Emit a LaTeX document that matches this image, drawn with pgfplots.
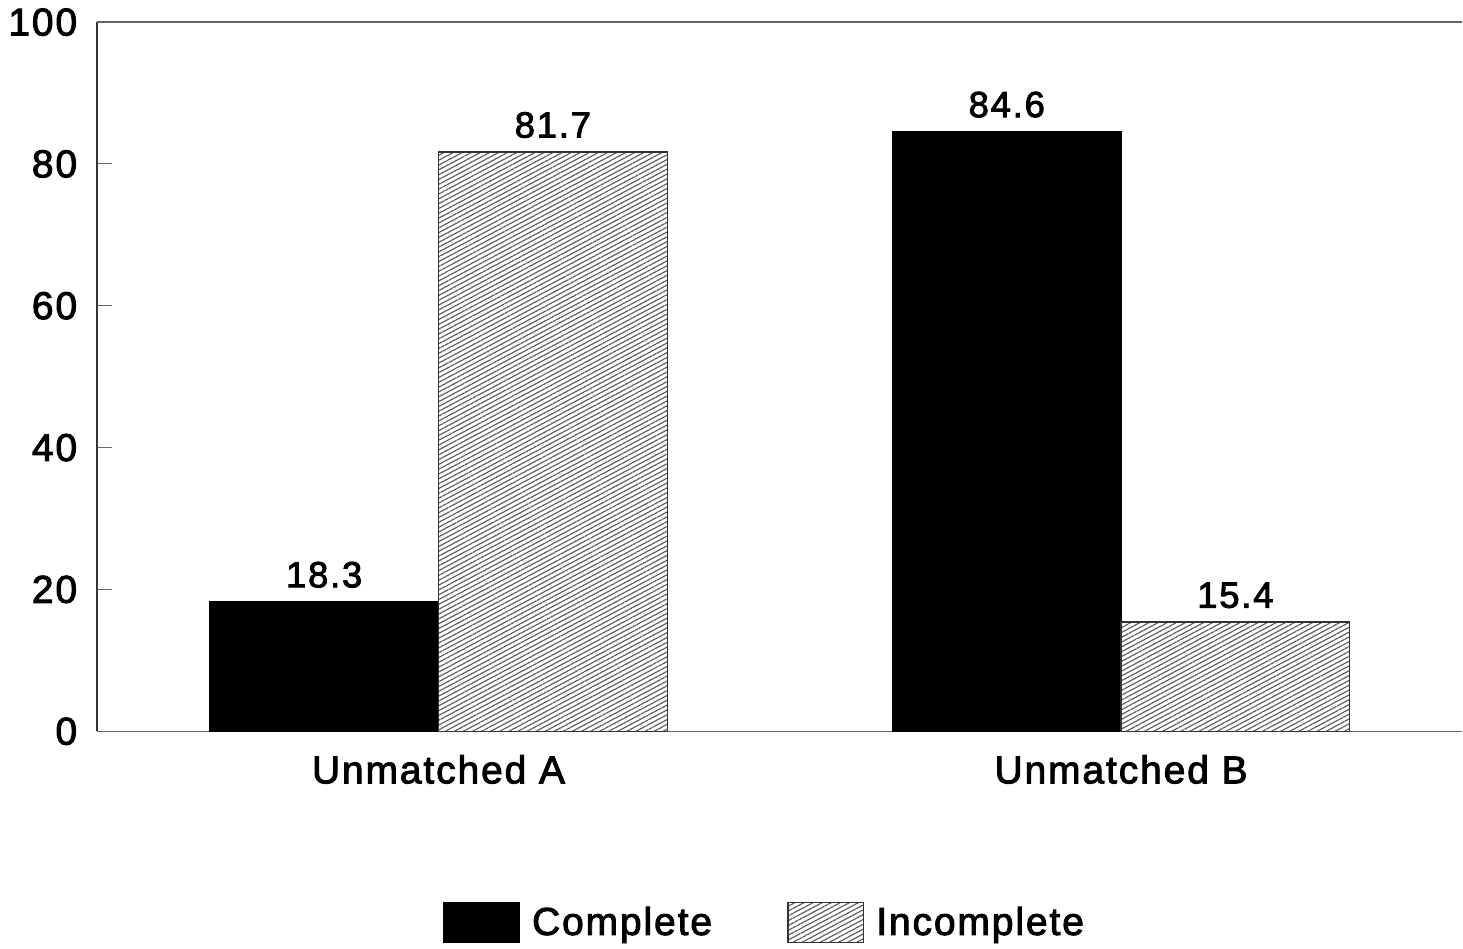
\documentclass[border=0pt]{standalone}
\usepackage{pgfplots}
\pgfplotsset{compat=1.18}
\usepackage{fontspec}
\setmainfont{Liberation Sans}[LetterSpace=5, FakeBold=2.5]
\usetikzlibrary{patterns.meta}
\begin{document}
\begin{tikzpicture}
\begin{axis}[
  width=544.4pt, height=282.8pt, scale only axis,
  xmin=-0.5, xmax=1.5, ymin=0, ymax=100,
  axis x line=bottom, axis y line=left,
  axis line style={-, line width=0.6pt, black!80},
  x axis line style={black!60, line width=0.5pt},
  ybar=0pt, bar width=0.335,
  xtick={0,1}, xticklabels={Unmatched A, Unmatched B},
  xtick style={draw=none},
  ytick={0,20,40,60,80,100},
  ytick style={black!60, line width=0.4pt},
  major tick length=6pt,
  tick align=inside,
  /pgf/number format/assume math mode=true,
  ticklabel style={font=\fontsize{15.5}{18}\selectfont},
  yticklabel style={xshift=-4.5pt},
  xticklabel style={yshift=-6pt},
  nodes near coords,
  nodes near coords style={font=\fontsize{14.5}{17}\selectfont, /pgf/number format/fixed, /pgf/number format/precision=1, /pgf/number format/fixed zerofill, yshift=2pt},
  legend style={at={(0.49,-0.27)}, anchor=center, draw=none, legend columns=2,
    font=\fontsize{15.5}{18}\selectfont, column sep=3pt,
    /tikz/every even column/.append style={column sep=28pt}},
  legend image code/.code={\draw[#1] (0pt,-8pt) rectangle (30pt,8pt);},
  clip=false,
]
\addplot[draw=black, fill=black] coordinates {(0,18.3) (1,84.6)};
\addplot[draw=black!80, line width=0.5pt, fill=white, postaction={pattern={Lines[angle=28,distance=1.7pt,line width=0.45pt]}, pattern color=black!65}] coordinates {(0,81.7) (1,15.4)};
\legend{Complete, Incomplete}
\draw[black!60, line width=0.5pt] (rel axis cs:0,1) -- (rel axis cs:1,1);
\end{axis}
\end{tikzpicture}
\end{document}
